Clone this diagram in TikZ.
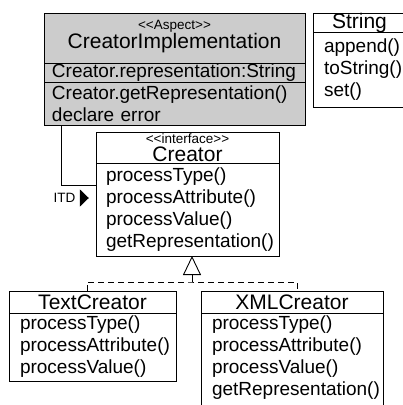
\documentclass[tikz,border=0pt]{standalone}
\usepackage{fontspec}
\setmainfont{Liberation Sans}
\usetikzlibrary{positioning,arrows.meta,shapes.geometric,calc}

\newcommand{\stereofont}{\fontsize{13.5}{15}\selectfont}
\newcommand{\classfont}{\fontsize{21}{18.5}\selectfont}
\newcommand{\memberfont}{\fontsize{19}{22}\selectfont}
\newcommand{\stereo}[1]{{\stereofont<\kern0pt<#1>\kern0pt>}}

\begin{document}
\begin{tikzpicture}[
        x=1pt, y=1pt,
        box/.style={rectangle, draw, line width=0.9pt, outer sep=0pt},
        chead/.style={box, inner sep=0pt, align=center, font=\classfont},
        cmem/.style={box, inner xsep=10pt, inner ysep=3pt, align=left, font=\memberfont},
        aspect/.style={fill=black!20},
        lbl/.style={inner sep=0pt, font=\stereofont},
        itdtri/.style={isosceles triangle, isosceles triangle stretches, fill=black, inner sep=0pt, minimum width=17.4pt, minimum height=9pt},
        assoc/.style={line width=0.9pt},
        impl/.style={line width=0.9pt, dash pattern=on 6pt off 4pt},
        real/.style={line width=0.9pt, -{Triangle[open, length=19pt, width=18pt]}},
    ]
    \useasboundingbox (0,0) rectangle (403,-405);

    % Aspect
    \node[chead, aspect, minimum width=261pt, minimum height=50pt, text depth=7pt, anchor=north west] (cihead) at (44,-13) {\stereo{Aspect}\\CreatorImplementation};
    \node[cmem, aspect, inner xsep=8pt, inner ysep=0.5pt, text width=245pt, minimum height=19pt, below=0pt of cihead] (ciattr) {Creator.representation:String};
    \node[cmem, aspect, inner xsep=8pt, text width=245pt, minimum height=43pt, below=0pt of ciattr] (ciops) {Creator.getRepresentation()\\declare error};

    % String
    \node[chead, minimum width=93pt, minimum height=19pt, anchor=north west] (strhead) at (313,-13) {String};
    \node[cmem, inner xsep=11pt, text width=71pt, minimum height=75pt, below=0pt of strhead] (strmem) {append()\\toString()\\set()};

    % Interface
    \node[chead, minimum width=183pt, minimum height=31pt, anchor=north west] (crhead) at (96,-132) {\stereo{interface}\\Creator};
    \node[cmem, text width=163pt, minimum height=93pt, below=0pt of crhead] (crmem) {processType()\\processAttribute()\\processValue()\\getRepresentation()};

    % Implementations
    \node[chead, minimum width=167pt, minimum height=22pt, anchor=north west] (tchead) at (9,-291) {TextCreator};
    \node[cmem, inner xsep=11pt, text width=145pt, minimum height=68pt, below=0pt of tchead] (tcmem) {processType()\\processAttribute()\\processValue()};
    \node[chead, minimum width=182pt, minimum height=22pt, anchor=north west] (xmhead) at (201,-291) {XMLCreator};
    \node[cmem, inner xsep=11pt, text width=160pt, text depth=80pt, below=0pt of xmhead] (xmmem) {processType()\\processAttribute()\\processValue()\\getRepresentation()};

    % ITD
    \draw[assoc] ($(ciops.south west)+(17,0)$) |- ($(crmem.north west)+(0,-22)$);
    \node[lbl] (itd) at (64.5,-198) {ITD};
    \node[itdtri, right=4pt of itd] (itdarrow) {};

    % Realization
    \coordinate (realjn) at ($(crmem.south)+(4.5,-26)$);
    \draw[impl] ($(tchead.north)+(-5.5,0)$) |- (realjn) -| ($(xmhead.north)+(5,0)$);
    \draw[real] (realjn) -- (crmem.south -| realjn);

\end{tikzpicture}
\end{document}
